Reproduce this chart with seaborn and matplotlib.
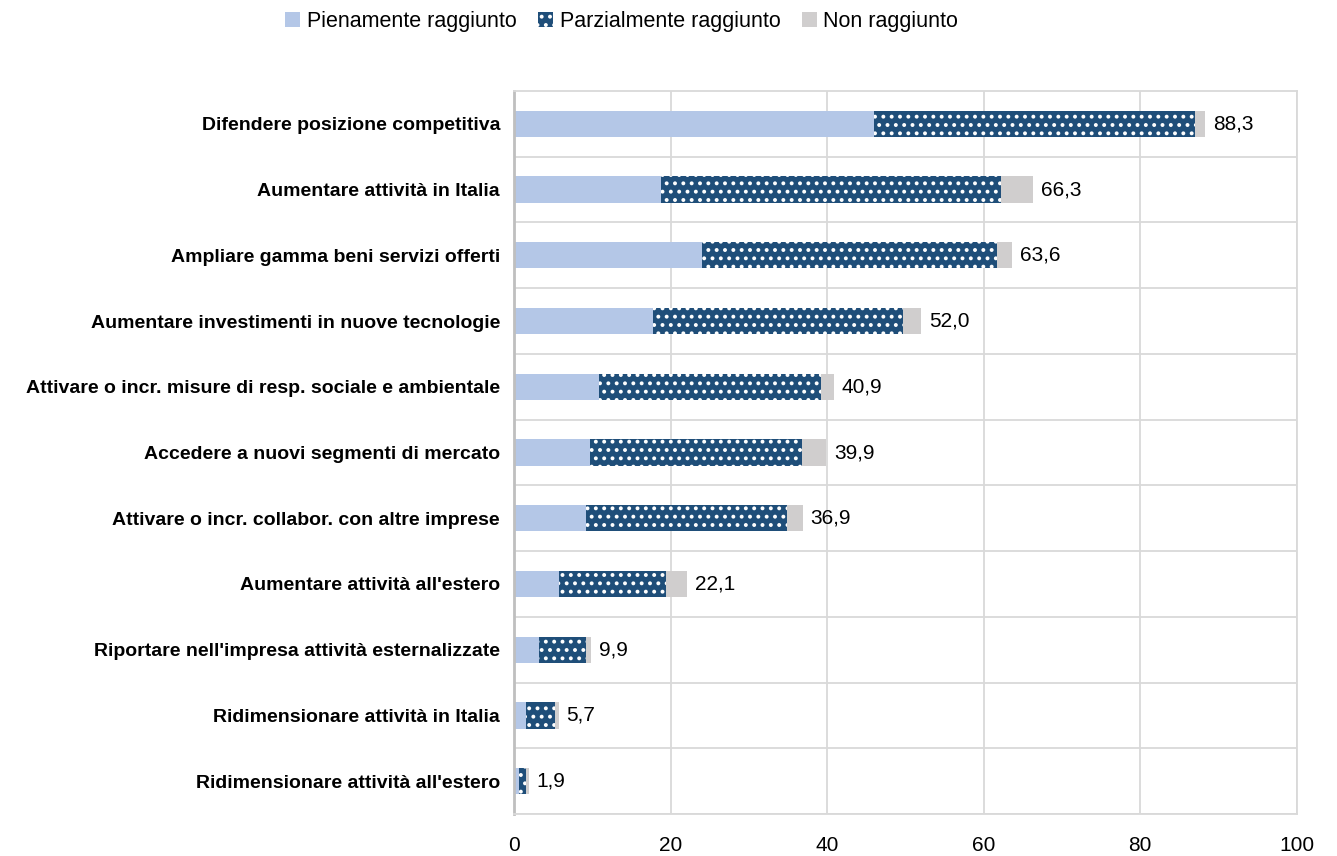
import numpy as np
import pandas as pd
import matplotlib
matplotlib.use("Agg")
import matplotlib.pyplot as plt
import seaborn as sns

# categories (top to bottom) and the three shares (% of firms)
categories = [
    "Difendere posizione competitiva",
    "Aumentare attività in Italia",
    "Ampliare gamma beni servizi offerti",
    "Aumentare investimenti in nuove tecnologie",
    "Attivare o incr. misure di resp. sociale e ambientale",
    "Accedere a nuovi segmenti di mercato",
    "Attivare o incr. collabor. con altre imprese",
    "Aumentare attività all'estero",
    "Riportare nell'impresa attività esternalizzate",
    "Ridimensionare attività in Italia",
    "Ridimensionare attività all'estero",
]
pienamente = [46.0, 18.8, 24.0, 17.7, 10.9, 9.7, 9.2, 5.8, 3.2, 1.6, 0.6]
parzialmente = [41.0, 43.4, 37.7, 32.0, 28.3, 27.1, 25.7, 13.6, 6.0, 3.6, 1.0]
non_raggiunto = [1.3, 4.1, 1.9, 2.3, 1.7, 3.1, 2.0, 2.7, 0.7, 0.5, 0.3]
totali = [88.3, 66.3, 63.6, 52.0, 40.9, 39.9, 36.9, 22.1, 9.9, 5.7, 1.9]
x_ticks = [0, 20, 40, 60, 80, 100]

series_names = ["Pienamente raggiunto", "Parzialmente raggiunto", "Non raggiunto"]
colors = ["#B4C7E7", "#1F4E79", "#D0CECE"]


def main():
    sns.set_style("white")
    plt.rcParams["font.family"] = ["Liberation Sans", "DejaVu Sans"]
    plt.rcParams["hatch.linewidth"] = 1.6
    plt.rcParams["text.color"] = "black"
    plt.rcParams["xtick.color"] = "black"
    plt.rcParams["ytick.color"] = "black"

    df = pd.DataFrame({
        "categoria": categories,
        "full": pienamente,
        "partial": parzialmente,
        "non": non_raggiunto,
    })
    # cumulative ends for stacking (draw longest first, shorter ones on top)
    df["c3"] = df["full"] + df["partial"] + df["non"]
    df["c2"] = df["full"] + df["partial"]
    df["c1"] = df["full"]

    fig = plt.figure(figsize=(13.37, 8.56), dpi=100)
    ax = fig.add_axes([0.3844, 0.049, 0.5856, 0.8447])

    layers = [("c3", colors[2], series_names[2]),
              ("c2", colors[1], series_names[1]),
              ("c1", colors[0], series_names[0])]
    handles = {}
    for col, color, name in layers:
        n_before = len(ax.patches)
        sns.barplot(data=df, x=col, y="categoria", orient="h", color=color,
                    saturation=1, width=0.4, linewidth=0, ax=ax)
        new = ax.patches[n_before:]
        if col == "c2":
            # white dotted pattern on the dark blue segment
            for p in new:
                p.set_hatch("..")
                p.set_edgecolor("white")
                p.set_linewidth(0)
        handles[name] = new[0]

    # value labels at the end of each stacked bar
    for i, tot in enumerate(totali):
        ax.text(df["c3"][i] + 1.0, i, f"{tot:.1f}".replace(".", ","),
                va="center", ha="left", fontsize=15, color="black")

    ax.set_xlim(0, 100)
    ax.set_ylim(len(categories) - 0.5, -0.5)
    ax.set_xticks(x_ticks)
    ax.set_xticklabels([str(t) for t in x_ticks], fontsize=15)
    ax.set_xlabel("")
    ax.set_ylabel("")
    for lab in ax.get_yticklabels():
        lab.set_fontweight("bold")
        lab.set_fontsize(14)
    ax.set_yticks(np.arange(len(categories)) + 0.5, minor=True)
    ax.tick_params(axis="both", which="both", length=0)
    ax.tick_params(axis="x", pad=16)
    ax.tick_params(axis="y", pad=10)

    ax.grid(axis="x", which="major", color="#D9D9D9", lw=1.3)
    ax.grid(axis="y", which="minor", color="#D9D9D9", lw=1.3)
    ax.set_axisbelow(True)
    for side in ["top", "right", "bottom"]:
        ax.spines[side].set_color("#D9D9D9")
        ax.spines[side].set_linewidth(1.3)
    ax.spines["left"].set_color("#BFBFBF")
    ax.spines["left"].set_linewidth(2)

    fig.legend([handles[n] for n in series_names], series_names,
               loc="upper center", bbox_to_anchor=(0.465, 1.01), ncol=3,
               frameon=False, fontsize=15.5, handlelength=0.7, handleheight=0.7,
               handletextpad=0.3, columnspacing=1.0)

    fig.savefig("out.png", dpi=100)


if __name__ == "__main__":
    main()
